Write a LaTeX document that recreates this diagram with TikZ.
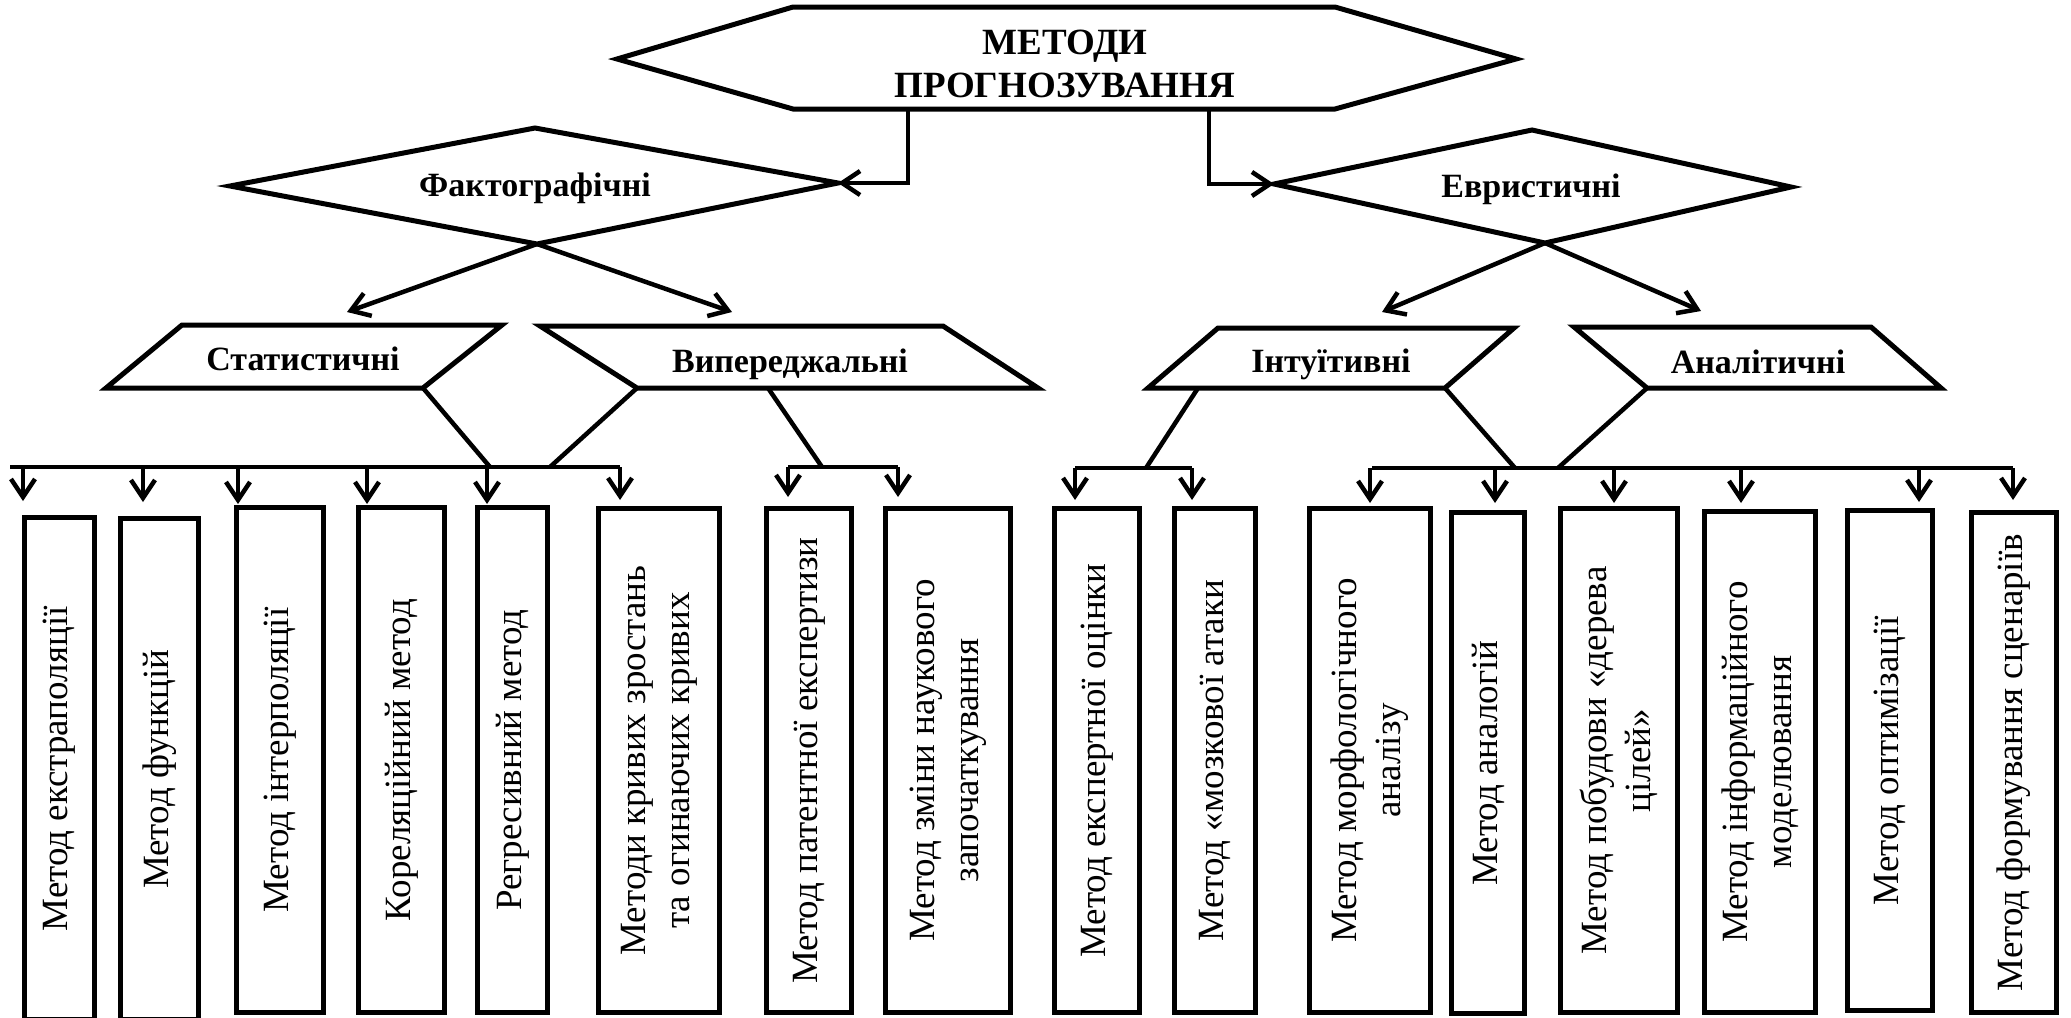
\documentclass[tikz,border=0pt]{standalone}
\usepackage{fontspec}
\setmainfont{Liberation Serif}
\usetikzlibrary{arrows.meta}
\begin{document}
\begin{tikzpicture}[x=1pt,y=-1pt,
  shp/.style={line width=5pt, line join=miter},
  conn/.style={line width=4.5pt},
  arr/.style={conn, -{Straight Barb[length=18pt,width=24pt]}},
  mbox/.style={draw, line width=5.5pt, rotate=90, align=center, inner sep=0pt,
    font=\fontsize{37}{44}\selectfont},
  lbl/.style={font=\bfseries\fontsize{34}{40}\selectfont, anchor=base, inner sep=0pt},
  ttl/.style={font=\bfseries\fontsize{37}{43}\selectfont, align=center, inner sep=0pt}]

\useasboundingbox (0,0) rectangle (2071,1017);
\clip (0,0) rectangle (2071,1017);

% ---------- top hexagon ----------
\coordinate (hL)  at (617,59);
\coordinate (hTL) at (793,7);
\coordinate (hTR) at (1335,7);
\coordinate (hR)  at (1516,59);
\coordinate (hBR) at (1335,109);
\coordinate (hBL) at (793,109);
\draw[shp] (hL)--(hTL)--(hTR)--(hR)--(hBR)--(hBL)--cycle;
\node[ttl] (title) at (1065,64) {МЕТОДИ\\ПРОГНОЗУВАННЯ};
\coordinate (hc1) at (908,109);
\coordinate (hc2) at (1209,109);

% ---------- diamonds ----------
\coordinate (fL) at (230,186);
\coordinate (fT) at (535,128);
\coordinate (fR) at (838,183);
\coordinate (fB) at (537,244);
\draw[shp] (fL)--(fT)--(fR)--(fB)--cycle;
\node[lbl] (fakt) at (535,196) {Фактографічні};

\coordinate (eL) at (1274,184);
\coordinate (eT) at (1532,130);
\coordinate (eR) at (1791,187);
\coordinate (eB) at (1545,243);
\draw[shp] (eL)--(eT)--(eR)--(eB)--cycle;
\node[lbl] (evr) at (1531,197) {Евристичні};

\draw[arr] (hc1) |- (fR);
\draw[arr] (hc2) |- (eL);

% arrows from diamonds
\coordinate (fa1) at (347,312);
\coordinate (fa2) at (732,312);
\coordinate (ea1) at (1382,312);
\coordinate (ea2) at (1701,311);
\draw[arr] (fB) -- (fa1);
\draw[arr] (fB) -- (fa2);
\draw[arr] (eB) -- (ea1);
\draw[arr] (eB) -- (ea2);

% ---------- parallelograms ----------
\coordinate (sTL) at (182,325);
\coordinate (sTR) at (502,325);
\coordinate (sBR) at (423,388);
\coordinate (sBL) at (106,388);
\draw[shp] (sTL)--(sTR)--(sBR)--(sBL)--cycle;
\node[lbl] (stat) at (303,370) {Статистичні};

\coordinate (vTL) at (540,326);
\coordinate (vTR) at (943,326);
\coordinate (vBR) at (1038,388);
\coordinate (vBL) at (637,388);
\draw[shp] (vTL)--(vTR)--(vBR)--(vBL)--cycle;
\node[lbl] (vyp) at (790,372) {Випереджальні};

\coordinate (iTL) at (1218,328);
\coordinate (iTR) at (1514,328);
\coordinate (iBR) at (1445,388);
\coordinate (iBL) at (1148,388);
\draw[shp] (iTL)--(iTR)--(iBR)--(iBL)--cycle;
\node[lbl] (intu) at (1331,372) {Інтуїтивні};

\coordinate (aTL) at (1574,327);
\coordinate (aTR) at (1871,327);
\coordinate (aBR) at (1941,388);
\coordinate (aBL) at (1647,388);
\draw[shp] (aTL)--(aTR)--(aBR)--(aBL)--cycle;
\node[lbl] (anal) at (1758,373) {Аналітичні};

% ---------- buses ----------
\coordinate (busLa) at (10,467);
\coordinate (busLb) at (620,467);
\coordinate (busVa) at (788,467);
\coordinate (busVb) at (898,467);
\coordinate (busIa) at (1075,468);
\coordinate (busIb) at (1192,468);
\coordinate (busAa) at (1372,468);
\coordinate (busAb) at (2013,468);
\draw[conn] (busLa) -- (busLb);
\draw[conn] (busVa) -- (busVb);
\draw[conn] (busIa) -- (busIb);
\draw[conn] (busAa) -- (busAb);

% joints from shapes to buses
\coordinate (j1) at (490,467);
\coordinate (j2) at (550,467);
\coordinate (j3) at (822,467);
\coordinate (vM) at (768,388);
\coordinate (iM) at (1198,388);
\coordinate (j4) at (1146,468);
\coordinate (j5) at (1515,468);
\coordinate (j6) at (1558,468);
\draw[conn] (sBR) -- (j1);
\draw[conn] (vBL) -- (j2);
\draw[conn] (vM) -- (j3);
\draw[conn] (iM) -- (j4);
\draw[conn] (iBR) -- (j5);
\draw[conn] (aBL) -- (j6);

% arrow tips (free ends)
\coordinate (t1) at (23,501);
\coordinate (t2) at (143,502);
\coordinate (t3) at (238,504);
\coordinate (t4) at (367,504);
\coordinate (t5) at (487,504);
\coordinate (t6) at (620,500);
\coordinate (t7) at (788,497);
\coordinate (t8) at (898,497);
\coordinate (t9) at (1075,500);
\coordinate (t10) at (1192,500);
\coordinate (t11) at (1370,503);
\coordinate (t12) at (1495,503);
\coordinate (t13) at (1614,503);
\coordinate (t14) at (1741,503);
\coordinate (t15) at (1919,502);
\coordinate (t16) at (2013,500);
\foreach \t in {t1,t2,t3,t4,t5,t6} \draw[arr] (busLa -| \t) -- (\t);
\foreach \t in {t7,t8} \draw[arr] (busVa -| \t) -- (\t);
\foreach \t in {t9,t10} \draw[arr] (busIa -| \t) -- (\t);
\foreach \t in {t11,t12,t13,t14,t15,t16} \draw[arr] (busAa -| \t) -- (\t);

% ---------- method boxes ----------
\node[mbox, minimum width=502.5pt, minimum height=70pt] (b1) at (59.5,768.75) {Метод екстраполяції};
\node[mbox, minimum width=501.5pt, minimum height=78pt] (b2) at (159.5,769.25) {Метод функцій};
\node[mbox, minimum width=505pt, minimum height=87pt] (b3) at (280,760) {Метод інтерполяції};
\node[mbox, minimum width=505pt, minimum height=86pt] (b4) at (401.5,760) {Кореляційний метод};
\node[mbox, minimum width=505pt, minimum height=70pt] (b5) at (512.5,760) {Регресивний метод};
\node[mbox, minimum width=504pt, minimum height=121pt] (b6) at (659,760.5) {Методи кривих зростань\\та огинаючих кривих};
\node[mbox, minimum width=504pt, minimum height=85pt] (b7) at (809,760.5) {Метод патентної експертизи};
\node[mbox, minimum width=504pt, minimum height=125pt] (b8) at (948,760.5) {Метод зміни наукового\\започаткування};
\node[mbox, minimum width=504pt, minimum height=85pt] (b9) at (1097,760.5) {Метод експертної оцінки};
\node[mbox, minimum width=504pt, minimum height=81pt] (b10) at (1215,760.5) {Метод «мозкової атаки};
\node[mbox, minimum width=504pt, minimum height=121pt] (b11) at (1370,760.5) {Метод морфологічного\\аналізу};
\node[mbox, minimum width=501pt, minimum height=73pt] (b12) at (1488,763) {Метод аналогій};
\node[mbox, minimum width=504pt, minimum height=117pt] (b13) at (1619,760.5) {Метод побудови «дерева\\цілей»};
\node[mbox, minimum width=501pt, minimum height=111pt] (b14) at (1760,762) {Метод інформаційного\\моделювання};
\node[mbox, minimum width=500pt, minimum height=85pt] (b15) at (1890,760.5) {Метод оптимізації};
\node[mbox, minimum width=500pt, minimum height=85pt] (b16) at (2014,762.5) {Метод формування сценаріїв};
\end{tikzpicture}
\end{document}
